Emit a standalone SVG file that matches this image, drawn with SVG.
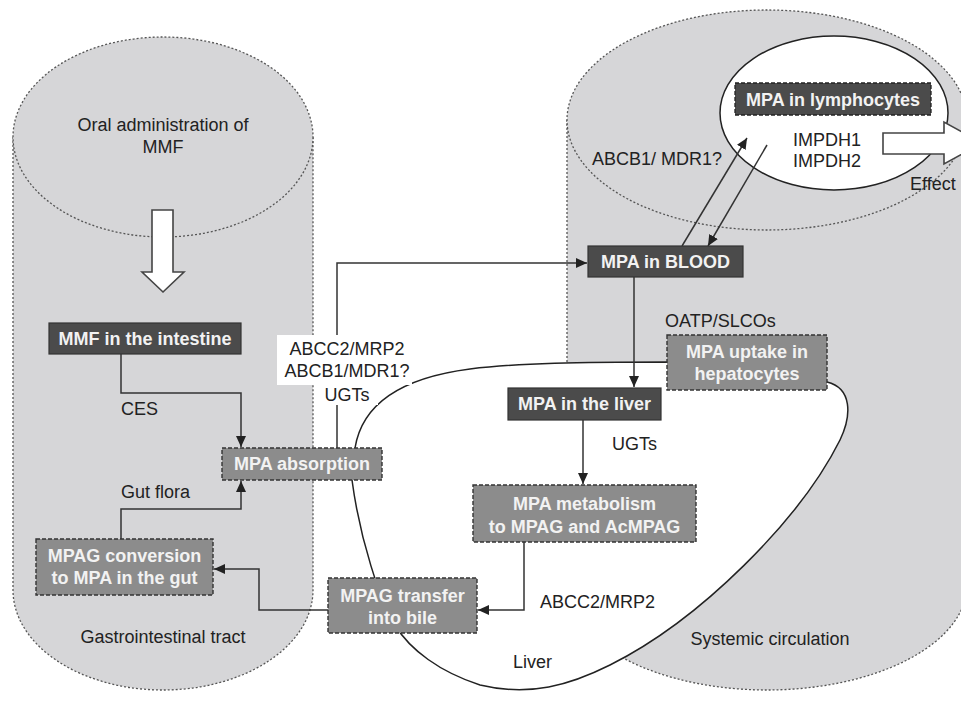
<svg xmlns="http://www.w3.org/2000/svg" width="961" height="704" viewBox="0 0 961 704">
<defs>
<style>
.cyl{fill:#d6d6d8;stroke:#555;stroke-width:1.3;stroke-dasharray:2,2}
.outline{fill:#fff;stroke:#222;stroke-width:1.5}
.dark{fill:#4b4b4b;stroke:#333;stroke-width:1.2}
.darkd{fill:#4b4b4b;stroke:#222;stroke-width:1.3;stroke-dasharray:4,2}
.mid{fill:#8c8c8c;stroke:#333;stroke-width:1.4;stroke-dasharray:4,2}
.bt{font-family:"Liberation Sans",Arial,sans-serif;font-size:18px;font-weight:bold;fill:#f2f2f2;text-anchor:middle}
.lt{font-family:"Liberation Sans",Arial,sans-serif;font-size:18px;fill:#222}
.c{text-anchor:middle}
.con{fill:none;stroke:#333;stroke-width:1.5}
.big{fill:#fff;stroke:#444;stroke-width:1.6}
</style>
<marker id="ah" markerUnits="userSpaceOnUse" markerWidth="12" markerHeight="10" refX="11" refY="5" orient="auto">
<path d="M0,0 L11,5 L0,10 Z" fill="#222"/>
</marker>
</defs>

<g id="gi-tract">
<path class="cyl" d="M13,137 V590 A150,100 0 0 0 313,590 V137"/>
<ellipse class="cyl" cx="163" cy="137" rx="150" ry="100"/>
</g>
<g id="systemic-circulation">
<path class="cyl" d="M567,120 V585 A200,105 0 0 0 967,585 V120"/>
<ellipse class="cyl" cx="767" cy="120" rx="200" ry="110"/>
</g>
<g id="liver">
<path class="outline" d="M355,448 C362,405 400,378 470,369 C520,363 580,362 667,362 L827,382 C852,388 852,415 840,440 C800,520 700,620 610,665 C570,685 530,697 480,685 C440,672 410,650 395,625 C380,600 360,540 352,480 Z"/>
</g>
<g id="lymphocytes">
<ellipse class="outline" cx="834" cy="113" rx="114" ry="77"/>
</g>

<g id="connectors">
<path class="con" d="M121,354 V393 H241 V447" marker-end="url(#ah)"/>
<path class="con" d="M121,539 V509 H241 V481" marker-end="url(#ah)"/>
<path class="con" d="M328,610 H259 V569 H214" marker-end="url(#ah)"/>
<path class="con" d="M337,448 V263 H587" marker-end="url(#ah)"/>
<path class="con" d="M634,277 V387" marker-end="url(#ah)"/>
<path class="con" d="M583,420 V484" marker-end="url(#ah)"/>
<path class="con" d="M524,542 V610 H478" marker-end="url(#ah)"/>
<path class="con" d="M682,246 L747,138" marker-end="url(#ah)"/>
<path class="con" d="M767,145 L708,246" marker-end="url(#ah)"/>
</g>

<g id="transporter-label">
<rect x="277" y="335" width="135" height="50" fill="#fff"/>
<rect x="318" y="385" width="60" height="20" fill="#fff"/>
<text class="lt c" x="347" y="355">ABCC2/MRP2</text>
<text class="lt c" x="347" y="377">ABCB1/MDR1?</text>
<text class="lt c" x="347" y="401">UGTs</text>
</g>

<g id="oral-admin">
<text class="lt c" x="163" y="131">Oral administration of</text>
<text class="lt c" x="163" y="153">MMF</text>
<path class="big" d="M152,210 H173 V272 H184 L163,292 L142,272 H152 Z"/>
</g>

<g id="mmf-intestine">
<rect class="dark" x="49" y="323" width="192" height="31"/>
<text class="bt" x="145" y="345">MMF in the intestine</text>
</g>
<g id="mpa-absorption">
<rect class="mid" x="222" y="448" width="160" height="32"/>
<text class="bt" x="302" y="470">MPA absorption</text>
</g>
<g id="mpag-conversion">
<rect class="mid" x="36" y="539" width="177" height="56"/>
<text class="bt" x="124.5" y="562">MPAG conversion</text>
<text class="bt" x="124.5" y="584">to MPA in the gut</text>
</g>
<g id="mpa-blood">
<rect class="dark" x="588" y="246" width="155" height="31"/>
<text class="bt" x="665.5" y="268">MPA in BLOOD</text>
</g>
<g id="mpa-liver">
<rect class="dark" x="508" y="388" width="153" height="32"/>
<text class="bt" x="584.5" y="410">MPA in the liver</text>
</g>
<g id="mpa-uptake">
<rect class="mid" x="667" y="335" width="160" height="55"/>
<text class="bt" x="747" y="358">MPA uptake in</text>
<text class="bt" x="747" y="380">hepatocytes</text>
</g>
<g id="mpa-metabolism">
<rect class="mid" x="473" y="485" width="223" height="57"/>
<text class="bt" x="584.5" y="510">MPA metabolism</text>
<text class="bt" x="584.5" y="533">to MPAG and AcMPAG</text>
</g>
<g id="mpag-transfer">
<rect class="mid" x="328" y="578" width="149" height="55"/>
<text class="bt" x="402.5" y="602">MPAG transfer</text>
<text class="bt" x="402.5" y="624">into bile</text>
</g>
<g id="mpa-lymphocytes">
<rect class="darkd" x="735" y="83" width="196" height="32"/>
<text class="bt" x="833" y="106">MPA in lymphocytes</text>
<text class="lt c" x="827" y="146">IMPDH1</text>
<text class="lt c" x="827" y="167">IMPDH2</text>
</g>
<g id="effect">
<path class="big" d="M883,133 H944 V122 L982,143 L944,164 V154 H883 Z"/>
<text class="lt" x="910" y="190">Effect</text>
</g>

<g id="labels">
<text class="lt" x="121" y="415">CES</text>
<text class="lt" x="121" y="498">Gut flora</text>
<text class="lt c" x="163" y="643">Gastrointestinal tract</text>
<text class="lt" x="592" y="165">ABCB1/ MDR1?</text>
<text class="lt" x="665" y="327">OATP/SLCOs</text>
<text class="lt" x="612" y="450">UGTs</text>
<text class="lt" x="540" y="608">ABCC2/MRP2</text>
<text class="lt" x="513" y="668">Liver</text>
<text class="lt c" x="770" y="645">Systemic circulation</text>
</g>
</svg>
